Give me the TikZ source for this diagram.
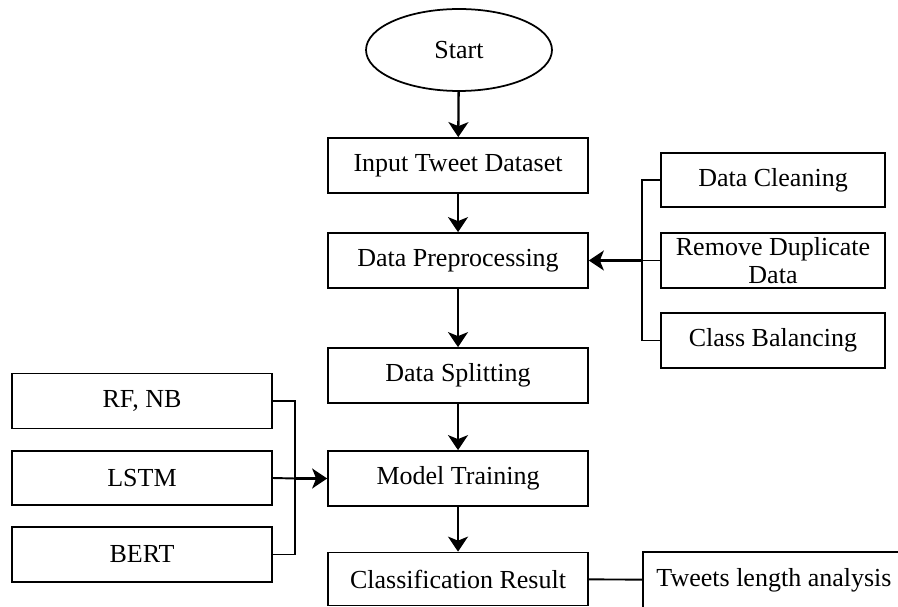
\documentclass[tikz,border=0pt]{standalone}
\usepackage{fontspec}
\setmainfont{Liberation Serif}
\usetikzlibrary{arrows,arrows.meta,shapes,positioning}

\begin{document}
\begin{tikzpicture}[x=0.02cm,y=-0.02cm]
      \tikzstyle{every node}=[font=\fontsize{14.8}{15.5}\selectfont, inner sep=0pt]
      \tikzstyle{stepbox}=[draw, line width=1pt, rectangle, minimum width=5.2cm, minimum height=1.1cm, align=center]
      \tikzstyle{sidebox}=[stepbox, minimum width=4.48cm]
      \tikzstyle{flow}=[-{Stealth[length=0.3cm,width=0.4cm,inset=0.08cm]}, line width=1.3pt]
      \tikzstyle{link}=[line width=1.1pt]

      \useasboundingbox (0,0) rectangle (898,607);

      % main column
      \node[draw, ellipse, line width=1pt, minimum width=3.72cm, minimum height=1.64cm] (start) at (459,50) {Start};
      \node[stepbox] (input) at (458,165.5) {Input Tweet Dataset};
      \node[stepbox] (prep) at (458,260.5) {Data Preprocessing};
      \node[stepbox] (split) at (458,375.5) {Data Splitting};
      \node[stepbox] (train) at (458,478.5) {Model Training};
      \node[stepbox, minimum height=1.06cm] (result) at (458,579) {Classification Result};

      % preprocessing steps
      \node[sidebox, minimum height=1.08cm] (clean) at (773,180) {Data Cleaning};
      \node[sidebox] (dup) at (773,260.5) {Remove Duplicate\\Data};
      \node[sidebox] (bal) at (773,340.5) {Class Balancing};

      % models
      \node[stepbox] (rfnb) at (142,401) {RF, NB};
      \node[stepbox, minimum height=1.08cm] (lstm) at (142,478) {LSTM};
      \node[stepbox] (bert) at (142,554.5) {BERT};

      \node[stepbox, minimum width=5.24cm, minimum height=1.12cm] (tweets) at (774,580) {Tweets length analysis};

      \coordinate (rj) at (642,260.5);
      \coordinate (lj) at (295,478.5);

      \draw[flow] (start) -- (input);
      \draw[flow] (input) -- (prep);
      \draw[flow] (prep) -- (split);
      \draw[flow] (split) -- (train);
      \draw[flow] (train) -- (result);

      \draw[link] (clean.west) -| (rj) |- (bal.west);
      \draw[link] (dup.west) -- (rj);
      \draw[flow] (rj) -- (prep.east);

      \draw[link] (rfnb.east) -| (lj) |- (bert.east);
      \draw[link] (lstm.east) -- (lj);
      \draw[flow] (lj) -- (train.west);

      \draw[link] (result) -- (tweets);
\end{tikzpicture}
\end{document}
